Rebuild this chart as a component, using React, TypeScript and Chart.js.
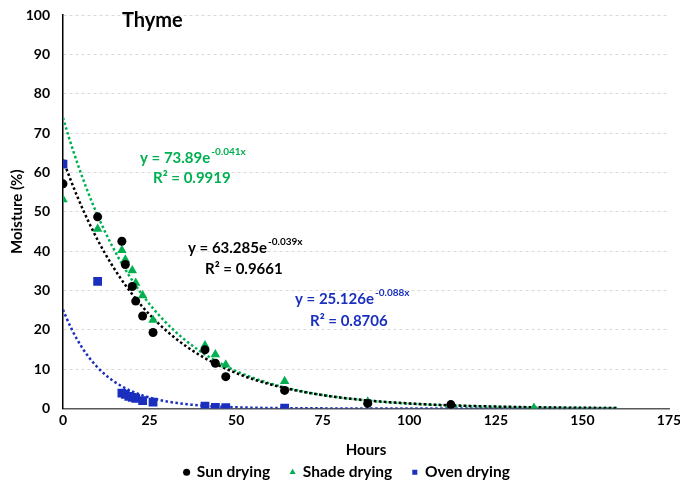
import React, { useEffect, useRef } from 'react';
import { Chart, registerables } from 'chart.js';
Chart.register(...registerables);

const sunHours = [0, 10, 17, 18, 20, 21, 23, 26, 41, 44, 47, 64, 88, 112];
const sunMoisture = [57.1, 48.7, 42.5, 36.6, 31.0, 27.3, 23.5, 19.3, 14.9, 11.5, 8.1, 4.6, 1.3, 1.0];
const shadeHours = [0, 10, 17, 18, 20, 21, 23, 26, 41, 44, 47, 64, 88, 112, 136];
const shadeMoisture = [53.1, 45.6, 40.2, 37.8, 35.1, 31.9, 28.7, 22.5, 16.0, 13.7, 11.1, 6.9, 1.7, 0.8, 0.1];
const ovenHours = [0, 10, 17, 18, 19, 20, 21, 23, 26, 41, 44, 47, 64];
const ovenMoisture = [62.1, 32.3, 3.9, 3.6, 3.1, 2.8, 2.6, 2.0, 1.6, 0.6, 0.3, 0.2, 0.1];

// Exponential trendlines as printed on the chart: y = a * e^(b x)
const sunTrend = { a: 63.285, b: -0.039, r2: '0.9661' };
const shadeTrend = { a: 73.89, b: -0.041, r2: '0.9919' };
const ovenTrend = { a: 25.126, b: -0.088, r2: '0.8706' };
const trendStart = 0;
const trendEnd = 160;

const seriesNames = ['Sun drying', 'Shade drying', 'Oven drying'];
const xTicks = [0, 25, 50, 75, 100, 125, 150, 175];

const BLACK = '#000000';
const GREEN = '#00B050';
const BLUE = '#1A2FBE';
const FONT = 'Lato';

function trendPoints(t: { a: number; b: number }) {
  const pts: { x: number; y: number }[] = [];
  for (let x = trendStart; x <= trendEnd; x += 1) pts.push({ x, y: t.a * Math.exp(t.b * x) });
  return pts;
}

function zip(xs: number[], ys: number[]) {
  return xs.map((x, i) => ({ x, y: ys[i] }));
}

const annotations = [
  { main: `y = ${shadeTrend.a}e`, sup: `${shadeTrend.b}x`, r2: `R² = ${shadeTrend.r2}`, color: GREEN, x1: 140, y1: 158, x2: 153, y2: 178 },
  { main: `y = ${sunTrend.a}e`, sup: `${sunTrend.b}x`, r2: `R² = ${sunTrend.r2}`, color: BLACK, x1: 188, y1: 248, x2: 205, y2: 269 },
  { main: `y = ${ovenTrend.a}e`, sup: `${ovenTrend.b}x`, r2: `R² = ${ovenTrend.r2}`, color: BLUE, x1: 295, y1: 299, x2: 310, y2: 321 },
];

const textPlugin = {
  id: 'texts',
  afterDatasetsDraw(chart: any) {
    const ctx = chart.ctx;
    ctx.save();
    ctx.textBaseline = 'middle';
    ctx.textAlign = 'left';
    ctx.fillStyle = '#000';
    ctx.font = `bold 20px ${FONT}`;
    ctx.fillText('Thyme', 122, 21);
    for (const a of annotations) {
      ctx.fillStyle = a.color;
      ctx.font = `bold 15px ${FONT}`;
      ctx.fillText(a.main, a.x1, a.y1);
      const w = ctx.measureText(a.main).width;
      ctx.font = `bold 10px ${FONT}`;
      ctx.fillText(a.sup, a.x1 + w + 1, a.y1 - 6);
      ctx.font = `bold 15px ${FONT}`;
      ctx.fillText(a.r2, a.x2, a.y2);
    }
    ctx.restore();
  },
};

export default function App() {
  const ref = useRef<HTMLCanvasElement>(null);
  useEffect(() => {
    document.body.style.margin = '0';
    const lineDs = (data: any[], color: string) => ({
      type: 'line' as const,
      data,
      showLine: true,
      borderColor: color,
      borderWidth: 2.5,
      borderDash: [2.5, 2.5],
      pointRadius: 0,
      fill: false,
      tension: 0,
    });
    const chart = new Chart(ref.current!, {
      type: 'scatter',
      data: {
        datasets: [
          { label: seriesNames[0], data: zip(sunHours, sunMoisture), pointStyle: 'circle', pointRadius: 4.5, backgroundColor: BLACK, borderColor: BLACK, borderWidth: 0 },
          { label: seriesNames[1], data: zip(shadeHours, shadeMoisture), pointStyle: 'triangle', pointRadius: 5.5, backgroundColor: GREEN, borderColor: GREEN, borderWidth: 0 },
          { label: seriesNames[2], data: zip(ovenHours, ovenMoisture), pointStyle: 'rect', pointRadius: 6.2, backgroundColor: BLUE, borderColor: BLUE, borderWidth: 0 },
          { label: 'sunTrend', ...lineDs(trendPoints(sunTrend), BLACK) },
          { label: 'shadeTrend', ...lineDs(trendPoints(shadeTrend), GREEN) },
          { label: 'ovenTrend', ...lineDs(trendPoints(ovenTrend), BLUE) },
        ] as any,
      },
      options: {
        animation: false,
        responsive: false,
        layout: { padding: { top: 15, right: 0, bottom: -6, left: 14 } },
        plugins: {
          tooltip: { enabled: false },
          legend: {
            position: 'bottom',
            labels: {
              filter: (item: any) => item.datasetIndex < 3,
              usePointStyle: true,
              boxWidth: 5,
              boxHeight: 5,
              padding: 20,
              color: '#000',
              font: { family: FONT, size: 15.5, weight: 'bold' },
            },
          },
        },
        scales: {
          x: {
            type: 'linear',
            min: 0,
            max: 175,
            afterBuildTicks: (s: any) => { s.ticks = xTicks.map((v) => ({ value: v })); },
            afterFit: (s: any) => { s.height = 36; s.paddingRight = 11; },
            ticks: { color: '#000', font: { family: FONT, size: 14, weight: 'bold' }, padding: 4, maxRotation: 0 },
            grid: { display: false, drawTicks: false },
            border: { display: true, color: '#595959', width: 1.5 },
            title: { display: true, text: 'Hours', color: '#000', font: { family: FONT, size: 15, weight: 'bold' }, padding: { top: 8, bottom: -15 } },
          },
          y: {
            type: 'linear',
            min: 0,
            max: 100,
            afterFit: (s: any) => { s.width = 49; s.paddingTop = 0; },
            ticks: { stepSize: 10, color: '#000', font: { family: FONT, size: 14, weight: 'bold' }, padding: 13 },
            grid: { color: '#D9D9D9', drawTicks: false },
            border: { display: true, color: '#000', width: 1.5, dash: [3, 3] },
            title: { display: true, text: 'Moisture (%)', color: '#000', font: { family: FONT, size: 15, weight: 'bold' }, padding: { top: -6, bottom: 4 } },
          },
        },
      } as any,
      plugins: [textPlugin],
    });
    return () => chart.destroy();
  }, []);
  return (
    <div style={{ width: 680, height: 484 }}>
      <canvas ref={ref} width={680} height={484} style={{ display: 'block' }} />
    </div>
  );
}
